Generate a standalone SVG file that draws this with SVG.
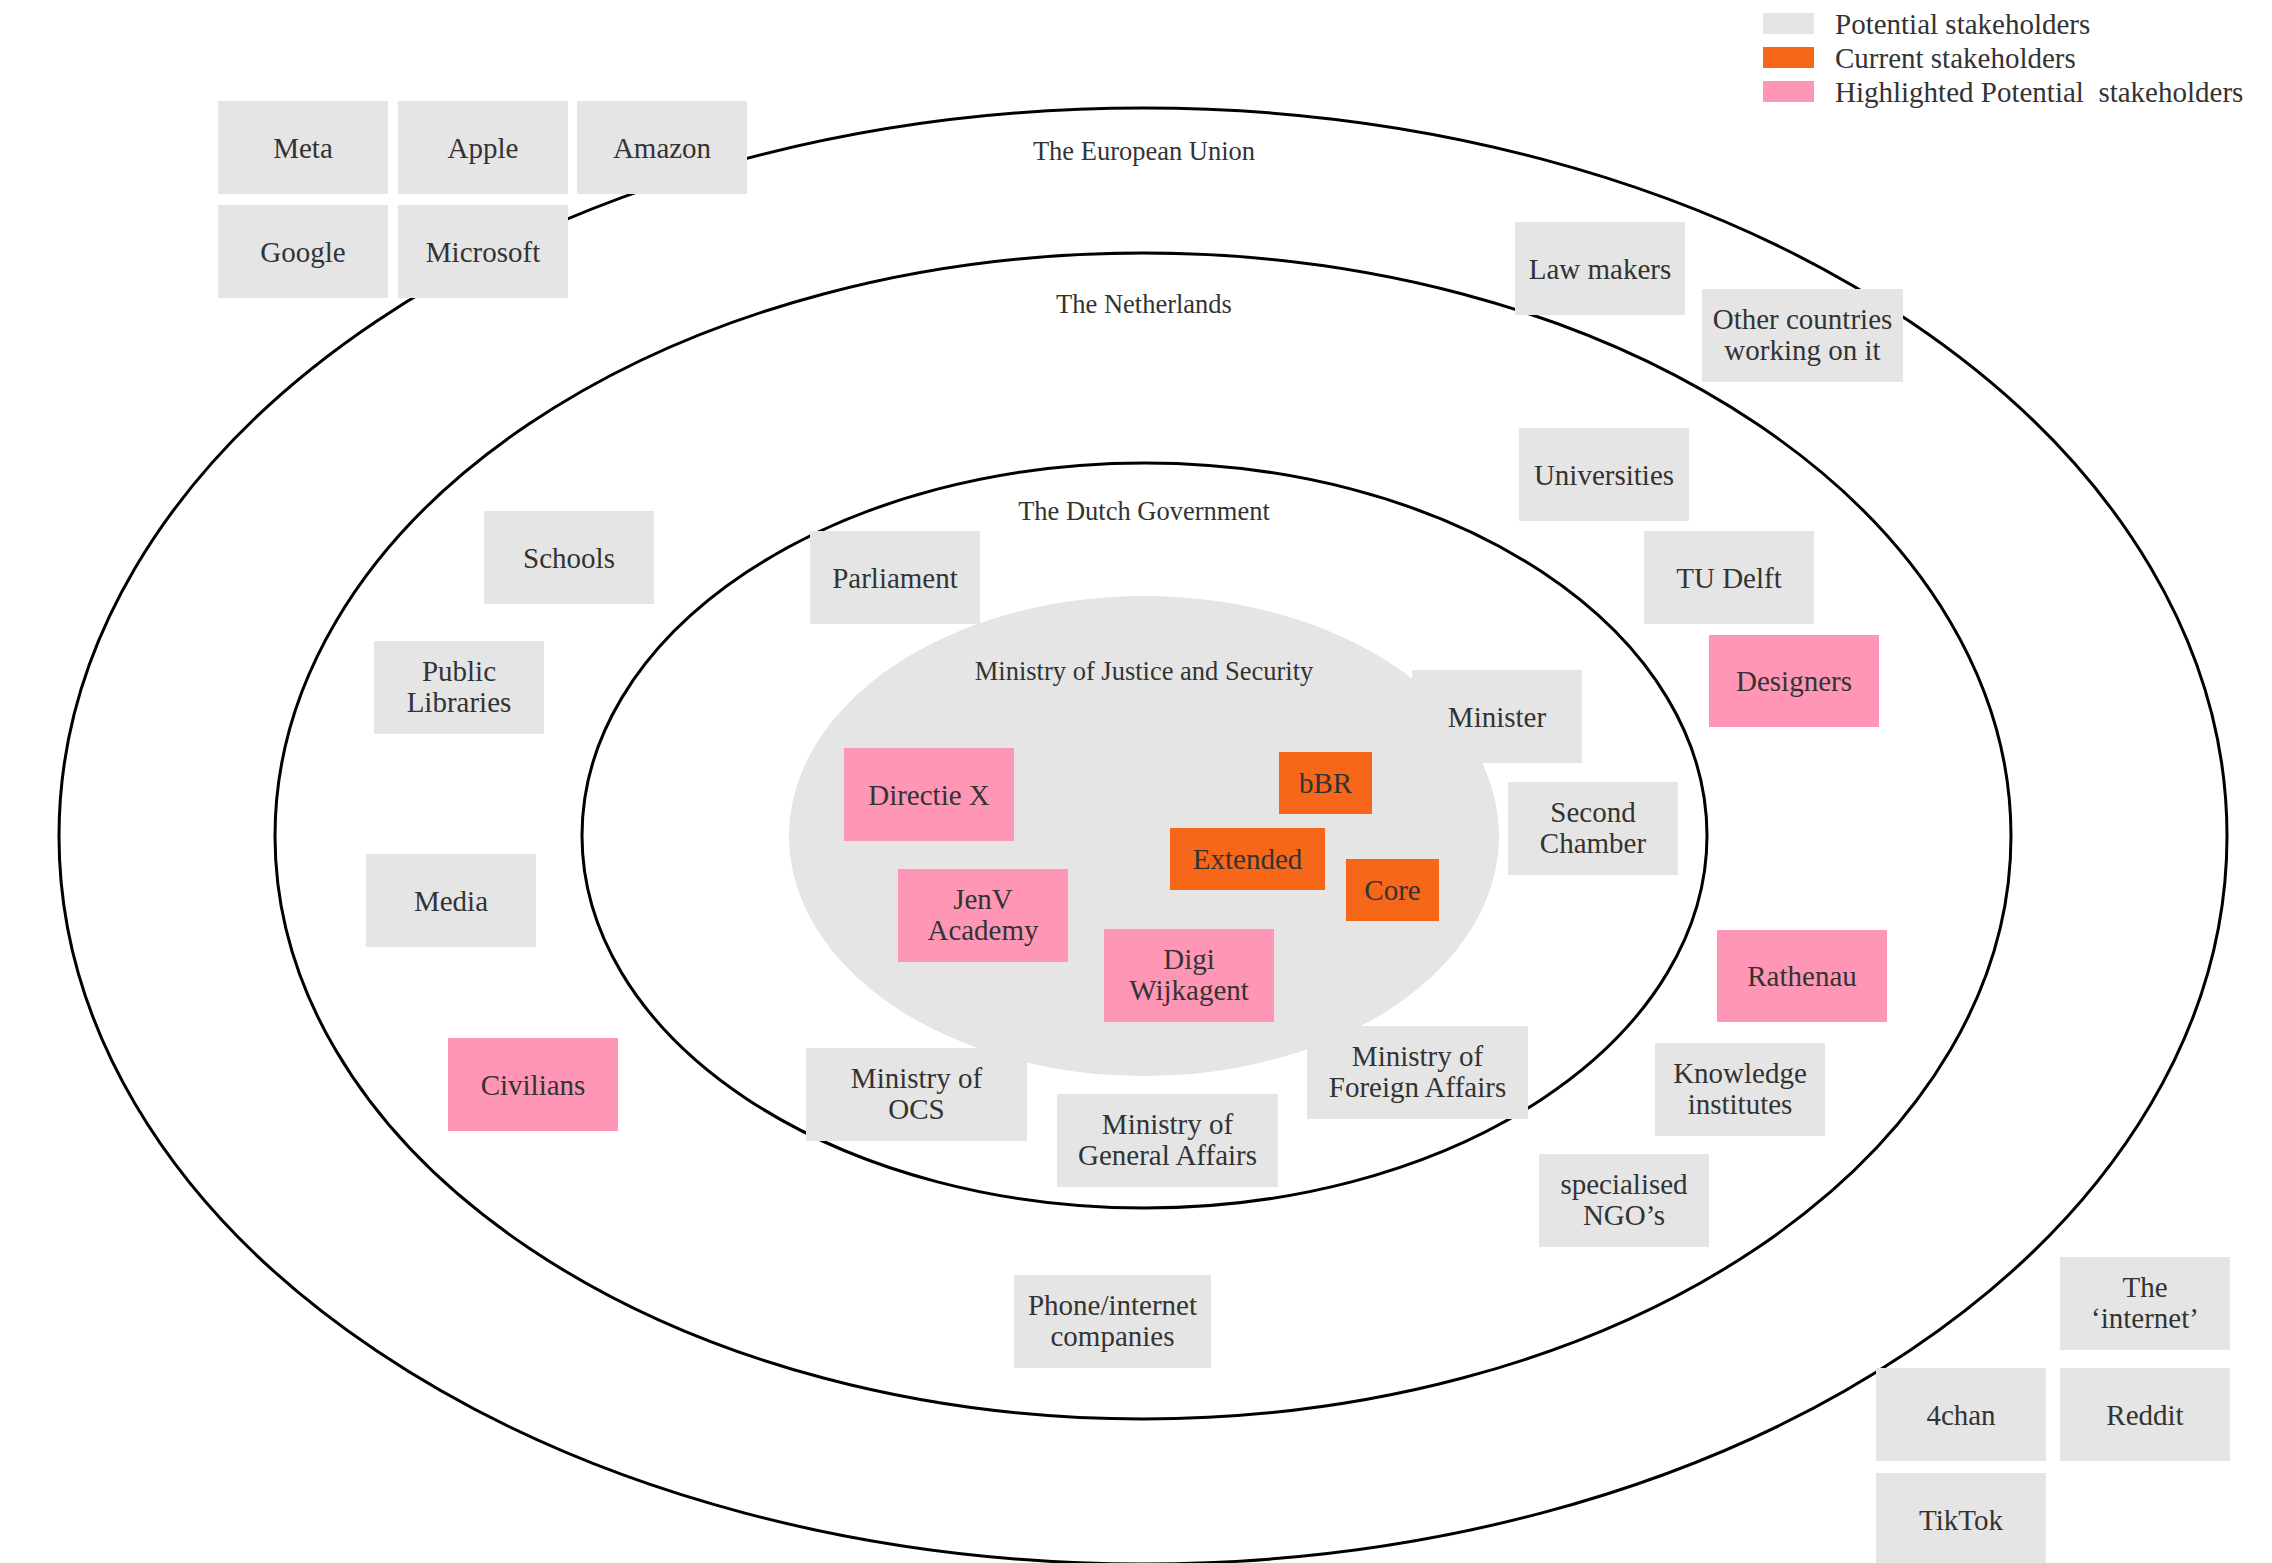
<svg xmlns="http://www.w3.org/2000/svg" width="2272" height="1563" viewBox="0 0 2272 1563">
  <style>
    .box { fill: #e5e5e5; }
    .pink { fill: #ff96b6; }
    .orange { fill: #f76719; }
    .ring { fill: none; stroke: #000; stroke-width: 3; }
    text { font-family: "Liberation Serif", "Times New Roman", serif; fill: #333; }
    .lbl { font-size: 29px; text-anchor: middle; }
    .ringlbl { font-size: 26.5px; text-anchor: middle; }
    .leg { font-size: 29px; white-space: pre; }
  </style>

  <rect width="2272" height="1563" fill="#fff"/>

  <!-- concentric spheres of influence -->
  <g id="rings">
    <ellipse class="ring" cx="1143" cy="836" rx="1084" ry="728"/>
    <ellipse class="ring" cx="1143" cy="836" rx="868" ry="583"/>
    <ellipse class="ring" cx="1144.5" cy="835.5" rx="562.5" ry="372.5"/>
    <ellipse id="ministry-area" cx="1144" cy="836" rx="355" ry="240" fill="#e5e5e5"/>
    <text class="ringlbl" x="1144" y="160">The European Union</text>
    <text class="ringlbl" x="1144" y="313">The Netherlands</text>
    <text class="ringlbl" x="1144" y="520">The Dutch Government</text>
    <text class="ringlbl" x="1144" y="680">Ministry of Justice and Security</text>
  </g>

  <!-- legend -->
  <g id="legend">
    <rect class="box" x="1763" y="13" width="51" height="21"/>
    <rect class="orange" x="1763" y="47" width="51" height="21"/>
    <rect class="pink" x="1763" y="81" width="51" height="21"/>
    <text class="leg" x="1835" y="34">Potential stakeholders</text>
    <text class="leg" x="1835" y="68">Current stakeholders</text>
    <text class="leg" x="1835" y="102">Highlighted Potential  stakeholders</text>
  </g>

  <!-- stakeholders -->
  <g id="meta"><rect class="box" x="218" y="101" width="170" height="93"/><text class="lbl" x="303" y="157.5">Meta</text></g>
  <g id="apple"><rect class="box" x="398" y="101" width="170" height="93"/><text class="lbl" x="483" y="157.5">Apple</text></g>
  <g id="amazon"><rect class="box" x="577" y="101" width="170" height="93"/><text class="lbl" x="662" y="157.5">Amazon</text></g>
  <g id="google"><rect class="box" x="218" y="205" width="170" height="93"/><text class="lbl" x="303" y="261.5">Google</text></g>
  <g id="microsoft"><rect class="box" x="398" y="205" width="170" height="93"/><text class="lbl" x="483" y="261.5">Microsoft</text></g>

  <g id="law-makers"><rect class="box" x="1515" y="222" width="170" height="93"/><text class="lbl" x="1600" y="278.5">Law makers</text></g>
  <g id="other-countries"><rect class="box" x="1702" y="289" width="201" height="93"/><text class="lbl" x="1802.5" y="328.5">Other countries</text><text class="lbl" x="1802.5" y="359.5">working on it</text></g>
  <g id="universities"><rect class="box" x="1519" y="428" width="170" height="93"/><text class="lbl" x="1604" y="484.5">Universities</text></g>
  <g id="tu-delft"><rect class="box" x="1644" y="531" width="170" height="93"/><text class="lbl" x="1729" y="587.5">TU Delft</text></g>
  <g id="designers"><rect class="pink" x="1709" y="635" width="170" height="92"/><text class="lbl" x="1794" y="691">Designers</text></g>

  <g id="schools"><rect class="box" x="484" y="511" width="170" height="93"/><text class="lbl" x="569" y="567.5">Schools</text></g>
  <g id="parliament"><rect class="box" x="810" y="531" width="170" height="93"/><text class="lbl" x="895" y="587.5">Parliament</text></g>
  <g id="public-libraries"><rect class="box" x="374" y="641" width="170" height="93"/><text class="lbl" x="459" y="680.5">Public</text><text class="lbl" x="459" y="711.5">Libraries</text></g>
  <g id="minister"><rect class="box" x="1412" y="670" width="170" height="93"/><text class="lbl" x="1497" y="726.5">Minister</text></g>

  <g id="directie-x"><rect class="pink" x="844" y="748" width="170" height="93"/><text class="lbl" x="929" y="804.5">Directie X</text></g>
  <g id="bbr"><rect class="orange" x="1279" y="752" width="93" height="62"/><text class="lbl" x="1325.5" y="793">bBR</text></g>
  <g id="second-chamber"><rect class="box" x="1508" y="782" width="170" height="93"/><text class="lbl" x="1593" y="821.5">Second</text><text class="lbl" x="1593" y="852.5">Chamber</text></g>
  <g id="extended"><rect class="orange" x="1170" y="828" width="155" height="62"/><text class="lbl" x="1247.5" y="869">Extended</text></g>
  <g id="core"><rect class="orange" x="1346" y="859" width="93" height="62"/><text class="lbl" x="1392.5" y="900">Core</text></g>
  <g id="media"><rect class="box" x="366" y="854" width="170" height="93"/><text class="lbl" x="451" y="910.5">Media</text></g>
  <g id="jenv-academy"><rect class="pink" x="898" y="869" width="170" height="93"/><text class="lbl" x="983" y="908.5">JenV</text><text class="lbl" x="983" y="939.5">Academy</text></g>
  <g id="digi-wijkagent"><rect class="pink" x="1104" y="929" width="170" height="93"/><text class="lbl" x="1189" y="968.5">Digi</text><text class="lbl" x="1189" y="999.5">Wijkagent</text></g>
  <g id="rathenau"><rect class="pink" x="1717" y="930" width="170" height="92"/><text class="lbl" x="1802" y="986">Rathenau</text></g>

  <g id="foreign-affairs"><rect class="box" x="1307" y="1026" width="221" height="93"/><text class="lbl" x="1417.5" y="1065.5">Ministry of</text><text class="lbl" x="1417.5" y="1096.5">Foreign Affairs</text></g>
  <g id="civilians"><rect class="pink" x="448" y="1038" width="170" height="93"/><text class="lbl" x="533" y="1094.5">Civilians</text></g>
  <g id="knowledge-institutes"><rect class="box" x="1655" y="1043" width="170" height="93"/><text class="lbl" x="1740" y="1082.5">Knowledge</text><text class="lbl" x="1740" y="1113.5">institutes</text></g>
  <g id="ocs"><rect class="box" x="806" y="1048" width="221" height="93"/><text class="lbl" x="916.5" y="1087.5">Ministry of</text><text class="lbl" x="916.5" y="1118.5">OCS</text></g>
  <g id="general-affairs"><rect class="box" x="1057" y="1094" width="221" height="93"/><text class="lbl" x="1167.5" y="1133.5">Ministry of</text><text class="lbl" x="1167.5" y="1164.5">General Affairs</text></g>
  <g id="specialised-ngos"><rect class="box" x="1539" y="1154" width="170" height="93"/><text class="lbl" x="1624" y="1193.5">specialised</text><text class="lbl" x="1624" y="1224.5">NGO’s</text></g>

  <g id="the-internet"><rect class="box" x="2060" y="1257" width="170" height="93"/><text class="lbl" x="2145" y="1296.5">The</text><text class="lbl" x="2145" y="1327.5">‘internet’</text></g>
  <g id="phone-internet"><rect class="box" x="1014" y="1275" width="197" height="93"/><text class="lbl" x="1112.5" y="1314.5">Phone/internet</text><text class="lbl" x="1112.5" y="1345.5">companies</text></g>
  <g id="4chan"><rect class="box" x="1876" y="1368" width="170" height="93"/><text class="lbl" x="1961" y="1424.5">4chan</text></g>
  <g id="reddit"><rect class="box" x="2060" y="1368" width="170" height="93"/><text class="lbl" x="2145" y="1424.5">Reddit</text></g>
  <g id="tiktok"><rect class="box" x="1876" y="1473" width="170" height="93"/><text class="lbl" x="1961" y="1529.5">TikTok</text></g>
</svg>
